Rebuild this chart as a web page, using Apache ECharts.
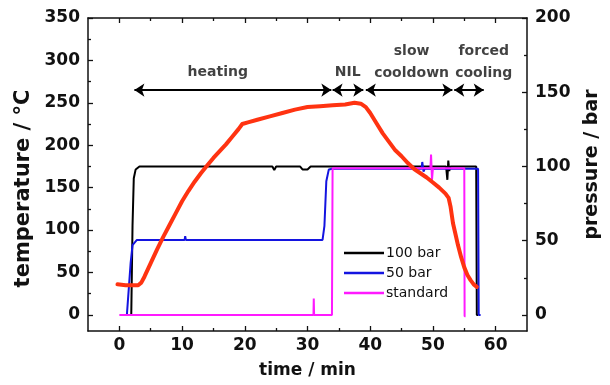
<!DOCTYPE html>
<html><head><meta charset="utf-8">
<script src="https://cdn.jsdelivr.net/npm/echarts@6/dist/echarts.min.js"></script>
<style>html,body{margin:0;padding:0;background:#fff}#c{width:610px;height:385px}</style>
</head><body><div id="c"></div>
<script>
// ---- data ----
const tempTime   = [-0.3, 1, 2, 3, 3.5, 4, 5, 6, 7, 8, 9, 10, 11, 12, 13, 14, 15, 16, 17, 18, 19, 19.6, 20.5, 22, 24, 26, 28, 30, 32, 34, 36, 37.5, 38.5, 39.3, 40, 41, 42, 43, 44, 45, 46, 47, 48, 49, 50, 51, 52, 52.5, 52.8, 53.2, 53.6, 54, 54.5, 55, 55.5, 56, 56.5, 57];
const tempValues = [36, 35, 35, 35, 38, 45, 61, 77, 92, 106, 120, 134, 146, 157, 167, 176, 185, 193, 201, 210, 219, 225, 227, 230, 234, 238, 242, 245, 246, 247, 248, 250, 249, 245, 238, 226, 214, 204, 194, 187, 179, 172, 167, 162, 156, 150, 143, 138, 128, 108, 95, 82, 68, 56, 47, 41, 36, 33];

const p100Time   = [1.5, 1.9, 2.1, 2.3, 2.6, 3.2, 24.4, 24.7, 25.0, 28.8, 29.2, 30.0, 30.5, 52.1, 52.3, 52.45, 52.6, 52.8, 56.9, 57.0, 57.2];
const p100Values = [0, 0, 60, 92, 98, 100, 100, 97.5, 100, 100, 98, 98, 100, 100, 91, 104, 97, 100, 100, 0, 0];

const p50Time    = [1.2, 1.5, 1.8, 2.1, 2.8, 10.4, 10.5, 10.6, 32.4, 32.7, 33.0, 33.4, 34, 48.2, 48.3, 48.5, 48.7, 57.2, 57.3, 57.6];
const p50Values  = [0, 0, 35, 47, 50.5, 50.5, 53, 50.5, 50.5, 60, 90, 98, 98.5, 98.5, 103, 96.5, 98.5, 98.5, 0, 0];

const stdTime    = [0, 30.95, 31.0, 31.05, 33.9, 34.0, 49.6, 49.7, 49.85, 50.0, 55.0, 55.05, 55.2];
const stdValues  = [0, 0, 11, 0, 0, 98.8, 98.8, 108, 91, 98.8, 98.8, -1, -1];

const xTicks = [0, 10, 20, 30, 40, 50, 60];
const xMinorTicks = [5, 15, 25, 35, 45, 55];
const tempTicks = [0, 50, 100, 150, 200, 250, 300, 350];
const tempMinorTicks = [25, 75, 125, 175, 225, 275, 325];
const pressureTicks = [0, 50, 100, 150, 200];
const pressureMinorTicks = [25, 75, 125, 175];

const phaseLabels    = ['heating', 'NIL', 'slow\ncooldown', 'forced\ncooling'];
const phaseStart     = [2.4, 34.0, 39.3, 53.4];
const phaseEnd       = [33.8, 38.9, 53.1, 58.1];
const phaseLabelTime = [15.7, 36.4, 46.6, 58.1];
const phaseLabelTemp = [286, 286, 298, 298];
const phaseArrowTemp = 265;

// ---- chart ----
const zip = (a, b) => a.map((v, i) => [v, b[i]]);
const INK = '#111';
const FONT = 'DejaVu Sans';
const X_MIN = -5, X_MAX = 65, T_MIN = -19, T_MAX = 350;
const P_MAX = 200, P_MIN = T_MIN * P_MAX / T_MAX;

function xAx(pos, major, withLabels) {
  return {
    type: 'value', position: pos, min: X_MIN, max: X_MAX,
    axisLine: { show: major, onZero: false, lineStyle: { color: INK, width: 1.5 } },
    axisTick: { show: true, inside: true, length: major ? 5 : 3, customValues: major ? xTicks : xMinorTicks, lineStyle: { color: INK, width: 1.3 } },
    axisLabel: withLabels ? { show: true, customValues: xTicks, fontFamily: FONT, fontWeight: 'bold', fontSize: 17, color: INK, margin: 6 } : { show: false },
    splitLine: { show: false }
  };
}
function yAx(pos, min, max, ticks, minor, major, withLabels) {
  return {
    type: 'value', position: pos, min: min, max: max,
    axisLine: { show: major, onZero: false, lineStyle: { color: INK, width: 1.5 } },
    axisTick: { show: true, inside: true, length: major ? 5 : 3, customValues: major ? ticks : minor, lineStyle: { color: INK, width: 1.3 } },
    axisLabel: withLabels ? { show: true, customValues: ticks, fontFamily: FONT, fontWeight: 'bold', fontSize: 17, color: INK, margin: 8 } : { show: false },
    splitLine: { show: false }
  };
}

const xBottom = xAx('bottom', true, true);
xBottom.name = 'time / min';
xBottom.nameLocation = 'middle';
xBottom.nameGap = 31;
xBottom.nameTextStyle = { fontFamily: FONT, fontWeight: 'bold', fontSize: 17, color: INK };

const yTemp = yAx('left', T_MIN, T_MAX, tempTicks, tempMinorTicks, true, true);
yTemp.name = 'temperature / °C';
yTemp.nameLocation = 'middle';
yTemp.nameRotate = 90;
yTemp.nameGap = 50;
yTemp.nameTextStyle = { fontFamily: FONT, fontWeight: 'bold', fontSize: 21, color: INK, padding: [0, 28, 0, 0] };

const yPres = yAx('right', P_MIN, P_MAX, pressureTicks, pressureMinorTicks, true, true);
yPres.name = 'pressure / bar';
yPres.nameLocation = 'middle';
yPres.nameRotate = 90;
yPres.nameGap = 56;
yPres.nameTextStyle = { fontFamily: FONT, fontWeight: 'bold', fontSize: 19, color: INK, padding: [0, 0, 0, 20] };

const option = {
  animation: false,
  backgroundColor: '#fff',
  grid: { left: 88, right: 76, top: 18, bottom: 54, containLabel: false },
  xAxis: [xBottom, xAx('bottom', false, false), xAx('top', true, false), xAx('top', false, false)],
  yAxis: [yTemp, yPres,
    yAx('left', T_MIN, T_MAX, tempTicks, tempMinorTicks, false, false),
    yAx('right', P_MIN, P_MAX, pressureTicks, pressureMinorTicks, false, false)],
  legend: {
    data: ['100 bar', '50 bar', 'standard'],
    orient: 'vertical', left: 344, top: 246, padding: 0,
    icon: 'rect', itemWidth: 40, itemHeight: 2.5, itemGap: 6,
    textStyle: { fontFamily: FONT, fontSize: 14, color: INK, lineHeight: 14, padding: [0, 0, 0, -3] }
  },
  series: [
    { name: '100 bar', type: 'line', xAxisIndex: 0, yAxisIndex: 1, data: zip(p100Time, p100Values), symbol: 'none', showSymbol: false,
      lineStyle: { color: '#000', width: 2 }, itemStyle: { color: '#000' }, z: 2 },
    { name: '50 bar', type: 'line', xAxisIndex: 0, yAxisIndex: 1, data: zip(p50Time, p50Values), symbol: 'none', showSymbol: false,
      lineStyle: { color: '#1414e0', width: 2 }, itemStyle: { color: '#1414e0' }, z: 3 },
    { name: 'standard', type: 'line', xAxisIndex: 0, yAxisIndex: 1, data: zip(stdTime, stdValues), symbol: 'none', showSymbol: false,
      lineStyle: { color: '#ff1aff', width: 2 }, itemStyle: { color: '#ff1aff' }, z: 4 },
    { name: 'temperature', type: 'line', xAxisIndex: 0, yAxisIndex: 0, data: zip(tempTime, tempValues), symbol: 'none', showSymbol: false,
      lineStyle: { color: '#ff3311', width: 4, cap: 'round', join: 'round' }, itemStyle: { color: '#ff3311' }, z: 5,
      markLine: {
        silent: true, animation: false,
        symbol: ['arrow', 'arrow'], symbolSize: 10,
        lineStyle: { color: '#000', width: 2, type: 'solid' },
        itemStyle: { color: '#000' },
        label: { show: false },
        data: phaseStart.map((s, i) => [{ coord: [s, phaseArrowTemp] }, { coord: [phaseEnd[i], phaseArrowTemp] }])
      } },
    { name: 'phases', type: 'scatter', xAxisIndex: 0, yAxisIndex: 0, symbolSize: 0, silent: true, z: 6,
      data: phaseLabelTime.map((t, i) => ({ value: [t, phaseLabelTemp[i]], label: { formatter: phaseLabels[i] } })),
      label: { show: true, position: 'inside', fontFamily: FONT, fontWeight: 'bold', fontSize: 14, color: INK, lineHeight: 22, align: 'center', verticalAlign: 'middle' },
      labelLayout: { hideOverlap: false } }
  ]
};
const chart = echarts.init(document.getElementById('c'), null, { renderer: 'canvas' });
chart.setOption(option);
</script>
</body></html>
